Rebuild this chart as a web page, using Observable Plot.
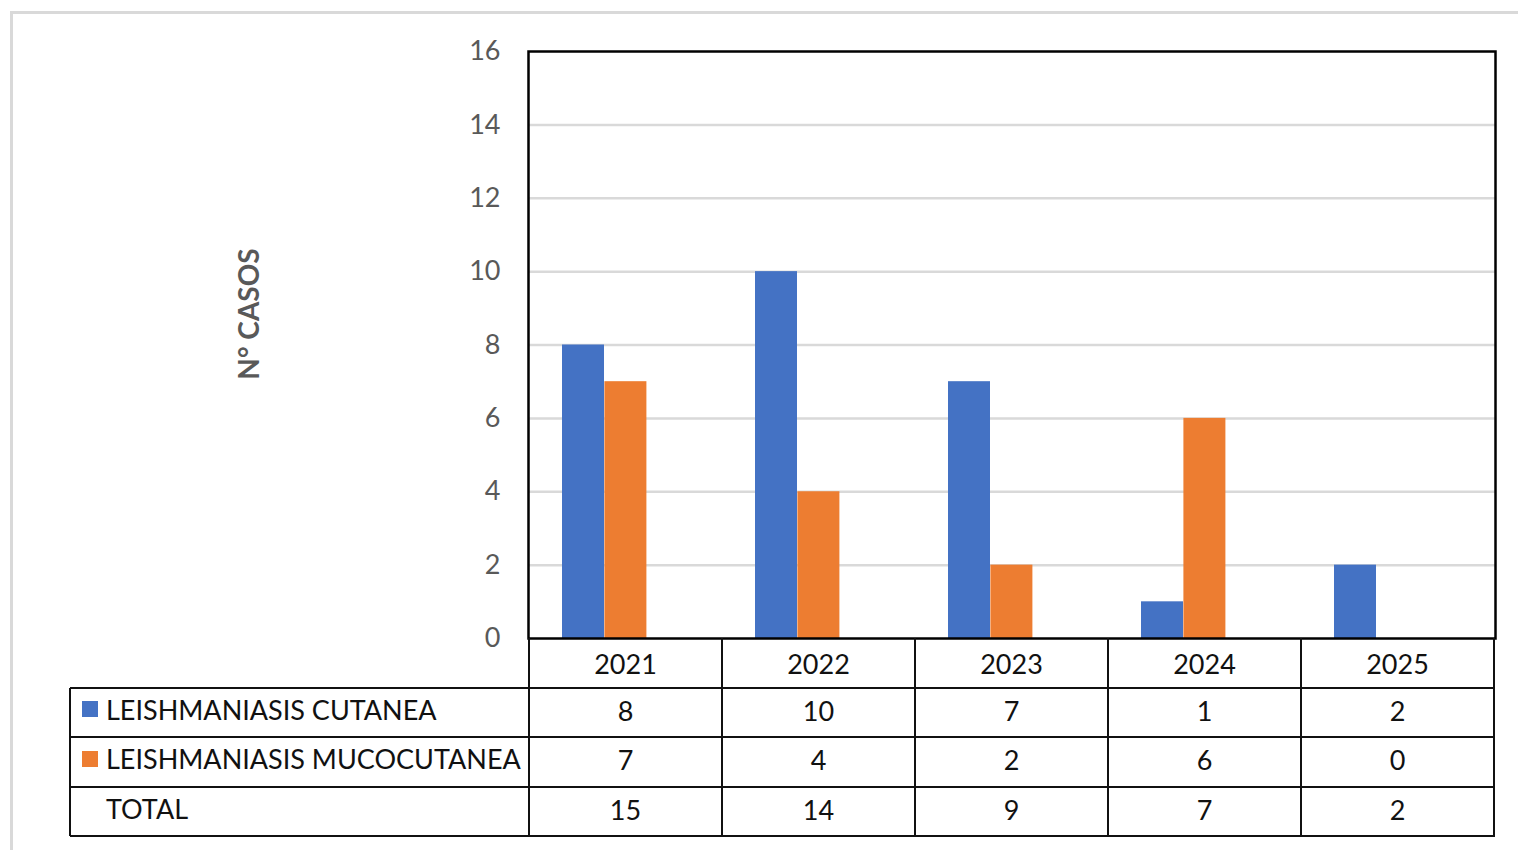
<!DOCTYPE html>
<html><head><meta charset="utf-8">
<script src="https://cdn.jsdelivr.net/npm/d3@7"></script>
<script src="https://cdn.jsdelivr.net/npm/@observablehq/plot@0.6"></script>
<style>
body{margin:0;background:#fff;font-family:Lato,"Open Sans",sans-serif;}
#wrap{position:relative;width:1518px;height:850px;overflow:hidden;background:#fff;}
#border{position:absolute;left:10px;top:11px;width:1600px;height:1000px;border:3px solid #d9d9d9;box-sizing:border-box;}
#plot{position:absolute;left:0;top:0;}
.cell{position:absolute;display:flex;align-items:center;justify-content:center;font-size:27px;color:#111;white-space:nowrap;}
.lab{justify-content:flex-start;}
.hl{position:absolute;height:2px;background:#111;}
.vl{position:absolute;width:2px;background:#111;}
.sw{display:inline-block;width:16px;height:16px;margin-right:8px;}
</style></head>
<body><div id="wrap"><div id="border"></div><div id="plot"></div></div>
<script>
const years = ["2021", "2022", "2023", "2024", "2025"];
const cutanea = [8, 10, 7, 1, 2];
const mucocutanea = [7, 4, 2, 6, 0];
const total = [15, 14, 9, 7, 2];
const seriesNames = ["LEISHMANIASIS CUTANEA", "LEISHMANIASIS MUCOCUTANEA", "TOTAL"];
const seriesColors = ["#4472c4", "#ed7d31", null];
const yTicks = [0, 2, 4, 6, 8, 10, 12, 14, 16];
const yLabel = "N° CASOS";

const cutData = years.map((y, i) => ({year: y, value: cutanea[i]}));
const mucData = years.map((y, i) => ({year: y, value: mucocutanea[i]}));

const chart = Plot.plot({
  width: 1518,
  height: 700,
  marginLeft: 528,
  marginRight: 23,
  marginTop: 51,
  marginBottom: 62,
  style: {fontFamily: "Lato, 'Open Sans', sans-serif", background: "transparent", overflow: "visible"},
  x: {domain: years, padding: 0, axis: null},
  y: {domain: [0, 16], axis: null},
  marks: [
    Plot.gridY(yTicks.filter(d => d > 0 && d < 16), {stroke: "#d9d9d9", strokeOpacity: 1, strokeWidth: 2.5}),
    Plot.barY(cutData, {x: "year", y: "value", fill: seriesColors[0], insetLeft: 33, insetRight: 118}),
    Plot.barY(mucData, {x: "year", y: "value", fill: seriesColors[1], insetLeft: 75.4, insetRight: 75.6}),
    Plot.frame({stroke: "#000", strokeWidth: 2.5}),
    Plot.axisY({ticks: yTicks, tickSize: 0, tickPadding: 28, fontSize: 27, fill: "#595959", label: null}),
    Plot.text([yLabel], {frameAnchor: "left", textAnchor: "middle", dx: -278, dy: -31, rotate: -90, fontSize: 28, fontWeight: "bold", fill: "#595959"})
  ]
});
document.getElementById("plot").appendChild(chart);

// Data table beneath the chart, aligned on the x scale
const xs = chart.scale("x");
const ys = chart.scale("y");
const wrap = document.getElementById("wrap");
const bw = xs.bandwidth;
const x0 = xs.apply(years[0]);
const xEnd = xs.apply(years[years.length - 1]) + bw;
const top0 = ys.apply(0);
const rowH = 49.5;
const labLeft = 70;

function add(cls, css, html) {
  const d = document.createElement("div");
  d.className = cls;
  Object.assign(d.style, css);
  if (html != null) d.innerHTML = html;
  wrap.appendChild(d);
  return d;
}
// header row: years
years.forEach(y => {
  add("cell", {left: xs.apply(y) + "px", top: (top0 + 1) + "px", width: bw + "px", height: rowH + "px"}, y);
});
const rowsData = [cutanea, mucocutanea, total];
rowsData.forEach((arr, r) => {
  const t = top0 + rowH * (r + 1) - 2;
  const sw = seriesColors[r] ? `<span class="sw" style="background:${seriesColors[r]}"></span>` : `<span class="sw"></span>`;
  add("cell lab", {left: (labLeft + 12) + "px", top: (t - 1) + "px", width: (x0 - labLeft - 12) + "px", height: rowH + "px"}, sw + seriesNames[r]);
  years.forEach((y, i) => {
    add("cell", {left: xs.apply(y) + "px", top: t + "px", width: bw + "px", height: rowH + "px"}, String(arr[i]));
  });
});
// grid lines
for (let r = 1; r <= 4; r++) {
  const t = top0 + rowH * r - 1;
  add("hl", {left: labLeft + "px", top: t + "px", width: (xEnd - labLeft + 1) + "px"});
}
years.forEach(y => add("vl", {left: (xs.apply(y) - 1) + "px", top: top0 + "px", height: rowH * 4 + "px"}));
add("vl", {left: (xEnd - 1) + "px", top: top0 + "px", height: rowH * 4 + "px"});
add("vl", {left: (labLeft - 1) + "px", top: (top0 + rowH) + "px", height: rowH * 3 + "px"});
</script>
</body></html>
